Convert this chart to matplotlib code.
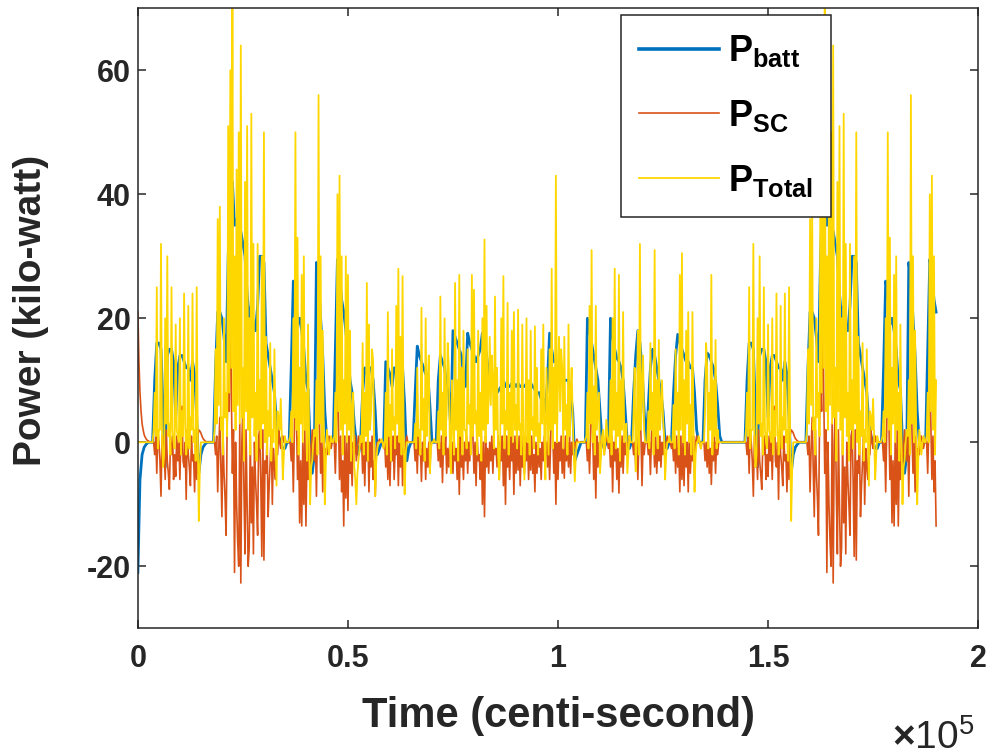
import numpy as np
import matplotlib
matplotlib.use('Agg')
import matplotlib.pyplot as plt

plt.rcParams['font.family'] = ['Liberation Sans', 'DejaVu Sans']
plt.rcParams['font.weight'] = 'bold'
plt.rcParams['axes.unicode_minus'] = False
plt.rcParams['mathtext.fontset'] = 'custom'
plt.rcParams['mathtext.rm'] = 'Liberation Sans'
plt.rcParams['mathtext.bf'] = 'Liberation Sans:bold'

# time axis: one sample every 500 centi-seconds (0 ... 1.9e5),
# plus the in-between samples (250 cs later) for the fast signals
time_cs = np.arange(0, 190001, 500)
time_mid_cs = np.arange(250, 190000, 500)

# total demanded power (kW), samples on time_cs
p_total = [
    0, 0, 0, 0, 0, 0, 0, 0, 8, 25,
    2, 32, -4, 20, 30, 3, 25, 0, 19, 1,
    20, 5, 24, -2, 22, 4, 24, 2, 25, -12.7,
    0, 0, 0, 0, 0, 0, 0, 15, 36, 38,
    4, 20, 8, 51, 60, 72, 30, 44, 50, 64,
    12, 42, 51, 20, 53, 32, 8, 32, 10, 30,
    50, 17, 5, 16, 2, 15, -7, 4, 7, -6,
    1, 0, 0.3, 5, 20, 50, 33, 12, 27, 30,
    8, 19, -10, -3, 2, 10, 56, 30, 18, -10,
    2, -2, 1, 0, 8, 40, 43, 30, 10, 30,
    27, 18, 5, -4, -10, -3, 1, 16, 8, 25.7,
    19, 5, 13, -8.7, -1, 0, 0.5, -1, 8, 21,
    6, 15, 4, 22, 28, 17, 26.8, -8.4, 0, 0,
    0, 0, 3, 12, 2, 21.7, 7, 20, 10, -5,
    0, 0.5, 0, 5, 23.5, 8, 20, 5, 12, -5,
    3, 25.7, 10, 27, 12, 18, 2, 15, 6, 27,
    24.6, 5, 18, 8, 20, 32.7, 22, 7.4, 6, 10,
    23.5, 12, -6, 20, 26.8, 5, 22.5, 8, 18, 21,
    6, 21.4, 3, 19, -6, 20, 10, 18, 4, 18.7,
    12, 3, 15, 19, -6, 5, 15, 28, 12, 43,
    10, 5, 12, 17, 6, 19, 8, 4, -6.3, 0,
    0, 0, 0, 0.5, 8, 22, 31, 9, 22, 5,
    -5, 1, -2, 3.6, 0, 10, 20, 28, 8, 27,
    10, 21, 2, -5, 1, 0, 5, -4.7, 18, 32,
    8, 2, 0, 5, 16, 8, 31, 10, 16.5, 5,
    4, -6, 0, 1, 0, 6, 15, 8, 27, 30.5,
    10, 18, 21, 6, 21, -8, 0, 1, -1, 0,
    5, 12, 8, 27, 10, 16.5, 2, 0, 0, 0,
    0, 0, 0, 0, 0, 0, 0, 0, 0, 0,
    8, 25, 2, 32, -4, 20, 30, 3, 25, 0,
    19, 1, 20, 5, 24, -2, 22, 4, 24, 2,
    25, -12.7, 0, 0, 0, 0, 0, 0, 0, 15,
    36, 38, 4, 20, 8, 51, 60, 72, 30, 44,
    50, 64, 12, 42, 51, 20, 53, 32, 8, 32,
    10, 30, 50, 17, 5, 16, 2, 15, -7, 4,
    7, -6, 1, 0, 0.3, 5, 20, 50, 33, 12,
    27, 30, 8, 19, -10, -3, 2, 10, 56, 30,
    18, -10, 2, -2, 1, 0, 8, 40, 43, 30,
    10,
]

# total demanded power (kW), samples on time_mid_cs
p_total_mid = [
    0, 0, 0, 0, 0, 0, 0, 2, 1, -1,
    2, 0, -2, 3, 1, -2, 2, -1, 2, 0,
    -2, 1, 3, 0, -1, 2, 0, -3, 1, -4,
    0, 0, 0, 0, 0, 0, 2, 3, 6, 2,
    -2, 4, 1, 8, 12, 5, 2, 6, 3, 4,
    -3, 5, 2, -2, 4, 1, -3, 2, -1, 3,
    0, -2, 1, -3, 0, 2, 5, 2, 1, -2,
    0, 0, 1, 0, 4, 2, -2, 3, 0, 2,
    -3, 1, -4, 0, 1, -2, 3, 0, 2, -3,
    0, 0, 0, 1, 0, 5, 2, -2, 3, 0,
    2, -3, 8, -6, -5, -1, 0, -2, 1, -3,
    2, 15, -1, -3, 0, 0, 0, 0, -2, 1,
    -3, 2, -1, 3, 0, -2, 2, -2, 0, 0,
    0, 0, -1, 1, -2, 2, -3, 1, 14, -1,
    0, 0, 0, -1, 2, -2, 1, 16, 0, 10,
    -2, 2, -3, 1, -2, 2, -1, 3, -2, 1,
    3, -2, 1, -3, 2, 0, 3, 17, 14, -1,
    2, -2, 1, 3, -1, 2, -2, 1, 0, 2,
    -1, 2, -2, 1, 3, 0, -2, 2, -1, 1,
    -2, 0, 3, 1, 12, -2, 2, -1, 3, 0,
    17, 15, -1, 2, -2, 1, 12, -2, -2, 0,
    0, 0, 0, 1, -1, 3, 0, -2, 2, 8,
    -2, 2, 0, 1, 0, -2, 2, -1, 1, -3,
    2, 0, 3, -2, 0, 0, 12, 1, -2, 2,
    14, 0, 0, -1, 2, -2, 1, -1, 2, 10,
    1, -2, 0, 0, 0, -1, 2, -2, 2, 0,
    -2, 3, 0, -2, 2, -2, 0, 0, 0, 0,
    16, -1, 2, -2, 1, -1, 0, 0, 0, 0,
    0, 0, 0, 0, 0, 0, 0, 0, 0, 2,
    1, -1, 2, 0, -2, 3, 1, -2, 2, -1,
    2, 0, -2, 1, 3, 0, -1, 2, 0, -3,
    1, -4, 0, 0, 0, 0, 0, 0, 2, 3,
    6, 2, -2, 4, 1, 8, 12, 5, 2, 6,
    3, 4, -3, 5, 2, -2, 4, 1, -3, 2,
    -1, 3, 0, -2, 1, -3, 0, 2, 5, 2,
    1, -2, 0, 0, 1, 0, 4, 2, -2, 3,
    0, 2, -3, 1, -4, 0, 1, -2, 3, 0,
    2, -3, 0, 0, 0, 1, 0, 5, 2, -2,
]

# battery power (kW), samples on time_cs
p_batt = [
    -21, -6, -2, -0.8, -0.3, 0, 0, 0, 10, 16,
    16, 15, 5, -4, 14, 15, 15, 13, 4, 12,
    14, 14, 13, 12, 12, 10, 13, 11, 4, -5,
    -2, -0.8, -0.3, 0, 0, 0, 0, 12, 21, 21,
    20, 17, 13, 30, 40, 42, 35, 36, 34, 34,
    32, 30, 24, 20, 22, 19, 18, 22, 30, 30,
    29, 16, 14, 12, 10, 8, 3, 1, 0, -1,
    -1, 0, 0, 12, 26, 24, 19, 20, 18, 15,
    10, 8.5, 0, -5, -2, 29, 26, 20, 14, 5,
    0, -1, 0, 0, 15, 29.5, 27, 23, 21, 18,
    14, 10, 8, 3, 0, -2, 0, 8, 12, 11,
    12, 12, 10, 5, -2, -1, 0, 0, 13, 12,
    11, 9, 12, 12, 11, 12, 12, 6, -3, -1,
    0, 0, 8, 15.5, 14, 13, 12, 11, 11, 6,
    0, 0, 0, 10, 14, 13, 12, 9, 8, 2,
    18, 17, 16, 15, 14, 11, 9, 17.6, 16, 15,
    14, 13, 14, 15, 17.6, 16, 14, 11, 9, 9,
    9, 8, 8.5, 9, 10, 9, 9, 9, 9.5, 9.5,
    9, 9.5, 9, 9, 9, 9.5, 9, 9.5, 9, 8.5,
    8, 8, 7, 7, 5, 10, 17.6, 15, 13, 13,
    13, 11, 10, 10, 10, 10, 8, 5, -3, -2,
    -1, 0, 0, 0, 20, 18, 16, 14, 12, 10,
    5, 0, -1, 0, 1, 20, 17, 15, 13.6, 13,
    12, 10, 5, 0, -1, 0, 8, 14, 18, 16,
    12, 5, 0, 6, 12, 15, 14, 12, 10, 8,
    5, 0, -1, 0, 0, 8, 14, 17.4, 16, 15,
    14, 13, 13, 12, 12, 8, 2, 0, 0, 0,
    10, 14.4, 14, 13, 12, 10, 6, 1, 0, 0,
    0, 0, 0, 0, 0, 0, 0, 0, 0, 0,
    10, 16, 16, 15, 5, -4, 14, 15, 15, 13,
    4, 12, 14, 14, 13, 12, 12, 10, 13, 11,
    4, -5, -2, -0.8, -0.3, 0, 0, 0, 0, 12,
    21, 21, 20, 17, 13, 30, 40, 42, 35, 36,
    34, 34, 32, 30, 24, 20, 22, 19, 18, 22,
    30, 30, 29, 16, 14, 12, 10, 8, 3, 1,
    0, -1, -1, 0, 0, 12, 26, 24, 19, 20,
    18, 15, 10, 8.5, 0, -5, -2, 29, 26, 20,
    14, 5, 0, -1, 0, 0, 15, 29.5, 27, 23,
    21,
]

# supercapacitor power (kW), samples on time_cs
p_sc = [
    21, 8, 3, 1.2, 0.5, 0.2, 0, 0, -2, -5,
    0, -8.7, 1, -6, -3, -7.6, -2, -6, -5.5, -3,
    -6, 5.8, -4, -9.2, -2, -7, -3, -8, -6, 2,
    1.5, 0.6, 0.2, 0, 0, 0, 0, -2, -8, 4,
    -12, -5, -15, 10, 29, -5, -21, -10, -20, -22.7,
    6, -18, -10, -17, -13, -18, -6, -15, 2, -18.4,
    -19, -5, -12, -3, -10, -4, 1, 2, -1, 1,
    0.5, 0, 0, -3, -8, 16.5, -6, -13, -13.5, -10,
    -13.5, -6, -4, 2, -3, -8.7, 18, -5, -8, -4,
    -2, 1, -1, 0.5, -5, 12, -6, -8, -13.5, -9,
    -11, -5, -7, -2, -3, 1, -1, -5, -7, -3,
    -8, -4, -6, -8.7, 0, 0.5, 0, -1, -4, -6,
    -7, -3, -6, -2, -7, -4, -7, -3, 1, 0,
    0, 0, -3, -5, -2, -6.3, -3, -6, -4, -5,
    0, 0, 0, -3, -4, -6.5, -2, -5, -4, -2,
    -5, -3, -6, -8.4, -4, -6, -3, -5, -3, 9.6,
    -5, -7, -3, -6, -10, -12, -4, -5, -3, -5,
    -2, -4, -6, -3, -7, -10, -4, -6, -3, -8.4,
    -5, -4.5, -7, -4, -5, -3, -6, -4.5, -5, -8,
    -5, -4, -6, -3, -2, -4, -6, 9, -5, -10,
    -6, -3, -5, -5.8, -3, -4, -5, -2, -1, 0.5,
    0, 0, 0, 0, -3, -5, 11, -6, -9, -4,
    -3, 1, -2, 1, -1, -4, -8, -3, -6, -8.2,
    -4, -5, -2, -1, 1, 0, -2, -4, -6, 6,
    -7, -2, 0, -2, -5.2, 3.6, -4, -5, -3, -4,
    -2, -1, 1, 0, -1, -3, -5, -4, -8, -6,
    -7, -4, -8, -5, -3, -6, 1, 0, -1, 0,
    -3, -4, -5, -6.8, -3, -5, -2, 0, 0, 0,
    0, 0, 0, 0, 0, 0, 0, 0, 0, 0,
    -2, -5, 0, -8.7, 1, -6, -3, -7.6, -2, -6,
    -5.5, -3, -6, 5.8, -4, -9.2, -2, -7, -3, -8,
    -6, 2, 1.5, 0.6, 0.2, 0, 0, 0, 0, -2,
    -8, 4, -12, -5, -15, 10, 29, -5, -21, -10,
    -20, -22.7, 6, -18, -10, -17, -13, -18, -6, -15,
    2, -18.4, -19, -5, -12, -3, -10, -4, 1, 2,
    -1, 1, 0.5, 0, 0, -3, -8, 16.5, -6, -13,
    -13.5, -10, -13.5, -6, -4, 2, -3, -8.7, 18, -5,
    -8, -4, -2, 1, -1, 0.5, -5, 12, -6, -8,
    -13.5,
]

# supercapacitor power (kW), samples on time_mid_cs
p_sc_mid = [
    13, 5, 2, 0.8, 0.3, 0.1, 0, 0, 1, 2,
    -3, 1, -1, 2, -5, 0, 1, -2, 1, 0,
    1, -3, 0, 2, -4, 1, -2, 0, 1, 1.8,
    1, 0.4, 0.1, 0, 0, 0, 0, 1, -1, -4,
    2, -9, 3, 5, 8, 2, 0, -16, 3, 0,
    -8, 2, -20, 1, -4, 0, -10, 1, -6, 2,
    -3, 1, -7, 2, -1, -6, -2, 0, 1, 0,
    0, 0, 0, 0, 2, 4, 1, -3, 0, 2,
    -2, 1, -1, 0, 1, 3, 2, 0, 1, -1,
    0, 0, 0, 0, 2, 3, 1, -3, 1, 0,
    1, -2, 0, 1, -1, 0, 0, 1, 0, 1,
    0, 1, -3, -1, 0, 0, 0, 0, 0, 1,
    0, 1, -1, 1, 0, 1, -1, 0, 0, 0,
    0, 0, 0, 1, -1, 0, 1, -1, 0, 0,
    0, 0, 0, 0, 1, 0, 1, -1, 0, 0,
    1, -1, 0, 1, -2, 0, 1, 0, 2, 1,
    0, 1, -2, 1, 0, 1, -1, 0, 1, 0,
    -1, 1, 0, 1, 0, 1, -1, 1, 0, 1,
    0, 1, -1, 1, 0, 1, 0, 1, -2, 0,
    1, -1, 0, 1, 0, 1, 0, 2, 0, 1,
    0, 1, -1, 1, 0, 1, 0, 0, 0, 0,
    0, 0, 0, 0, 0, 1, 2, 0, 1, 0,
    0, 0, 0, 0, 0, 1, 0, 1, -1, 0,
    1, 0, 0, 0, 0, 0, 0, 1, 0, 1,
    0, 0, 0, 0, 1, 0, 1, -1, 1, 0,
    0, 0, 0, 0, 0, 0, 1, -1, 1, 0,
    1, 0, 1, -1, 1, 0, 0, 0, 0, 0,
    0, 1, -1, 0, 1, 0, 0, 0, 0, 0,
    0, 0, 0, 0, 0, 0, 0, 0, 0, 0,
    1, 2, -3, 1, -1, 2, -5, 0, 1, -2,
    1, 0, 1, -3, 0, 2, -4, 1, -2, 0,
    1, 1.8, 1, 0.4, 0.1, 0, 0, 0, 0, 1,
    -1, -4, 2, -9, 3, 5, 8, 2, 0, -16,
    3, 0, -8, 2, -20, 1, -4, 0, -10, 1,
    -6, 2, -3, 1, -7, 2, -1, -6, -2, 0,
    1, 0, 0, 0, 0, 0, 2, 4, 1, -3,
    0, 2, -2, 1, -1, 0, 1, 3, 2, 0,
    1, -1, 0, 0, 0, 0, 2, 3, 1, -3,
]

x_ticks = [0, 50000, 100000, 150000, 200000]
x_tick_labels = ['0', '0.5', '1', '1.5', '2']
y_ticks = [-20, 0, 20, 40, 60]

c_batt = '#0072BD'
c_sc = '#D95319'
c_total = '#FFD700'
axis_col = '#262626'

# merge the on-grid and in-between samples into one time-ordered series
t_fine = np.empty(len(time_cs) + len(time_mid_cs))
t_fine[0::2] = time_cs
t_fine[1::2] = time_mid_cs
total_fine = np.empty_like(t_fine)
total_fine[0::2] = p_total
total_fine[1::2] = p_total_mid
sc_fine = np.empty_like(t_fine)
sc_fine[0::2] = p_sc
sc_fine[1::2] = p_sc_mid

fig = plt.figure(figsize=(9.92, 7.56), dpi=100)
ax = fig.add_axes([0.139, 0.169, 0.847, 0.820])

ax.plot(time_cs, p_batt, color=c_batt, linewidth=2.0, label=r'$\mathbf{P}_{\mathbf{batt}}$')
ax.plot(t_fine, sc_fine, color=c_sc, linewidth=1.2, label=r'$\mathbf{P}_{\mathbf{SC}}$')
ax.plot(t_fine, total_fine, color=c_total, linewidth=1.3, label=r'$\mathbf{P}_{\mathbf{Total}}$')

ax.set_xlim(0, 200000)
ax.set_ylim(-30, 70)
ax.set_xticks(x_ticks)
ax.set_xticklabels(x_tick_labels)
ax.set_yticks(y_ticks)
ax.set_yticklabels([str(v) for v in y_ticks])

ax.tick_params(direction='in', top=True, right=True, length=6, width=1.1,
               labelsize=22, color=axis_col, labelcolor=axis_col)
ax.tick_params(axis='x', pad=11)
ax.tick_params(axis='y', pad=5)
for sp in ax.spines.values():
    sp.set_color(axis_col)
    sp.set_linewidth(1.1)

ax.set_xlabel('Time (centi-second)', fontsize=30, fontweight='bold', color=axis_col, va='top')
ax.xaxis.set_label_coords(0.5, -0.11)
ax.set_ylabel('Power (kilo-watt)', fontsize=28, fontweight='bold', color=axis_col)
ax.yaxis.set_label_coords(-0.106, 0.512)

ax.text(0.996, -0.194, r'$\times\mathregular{10^{5}}$', transform=ax.transAxes,
        ha='right', va='baseline', fontsize=28, color=axis_col, fontweight='normal')

leg = ax.legend(loc='upper right', bbox_to_anchor=(0.825, 0.989), borderaxespad=0,
                fontsize=26, handlelength=2.2, handletextpad=0.25, labelspacing=0.8,
                frameon=True, fancybox=False, framealpha=1, edgecolor=axis_col,
                borderpad=0.5)
leg.get_frame().set_linewidth(1.1)
leg.get_lines()[0].set_linewidth(2.6)

fig.savefig('out.png', dpi=100)
